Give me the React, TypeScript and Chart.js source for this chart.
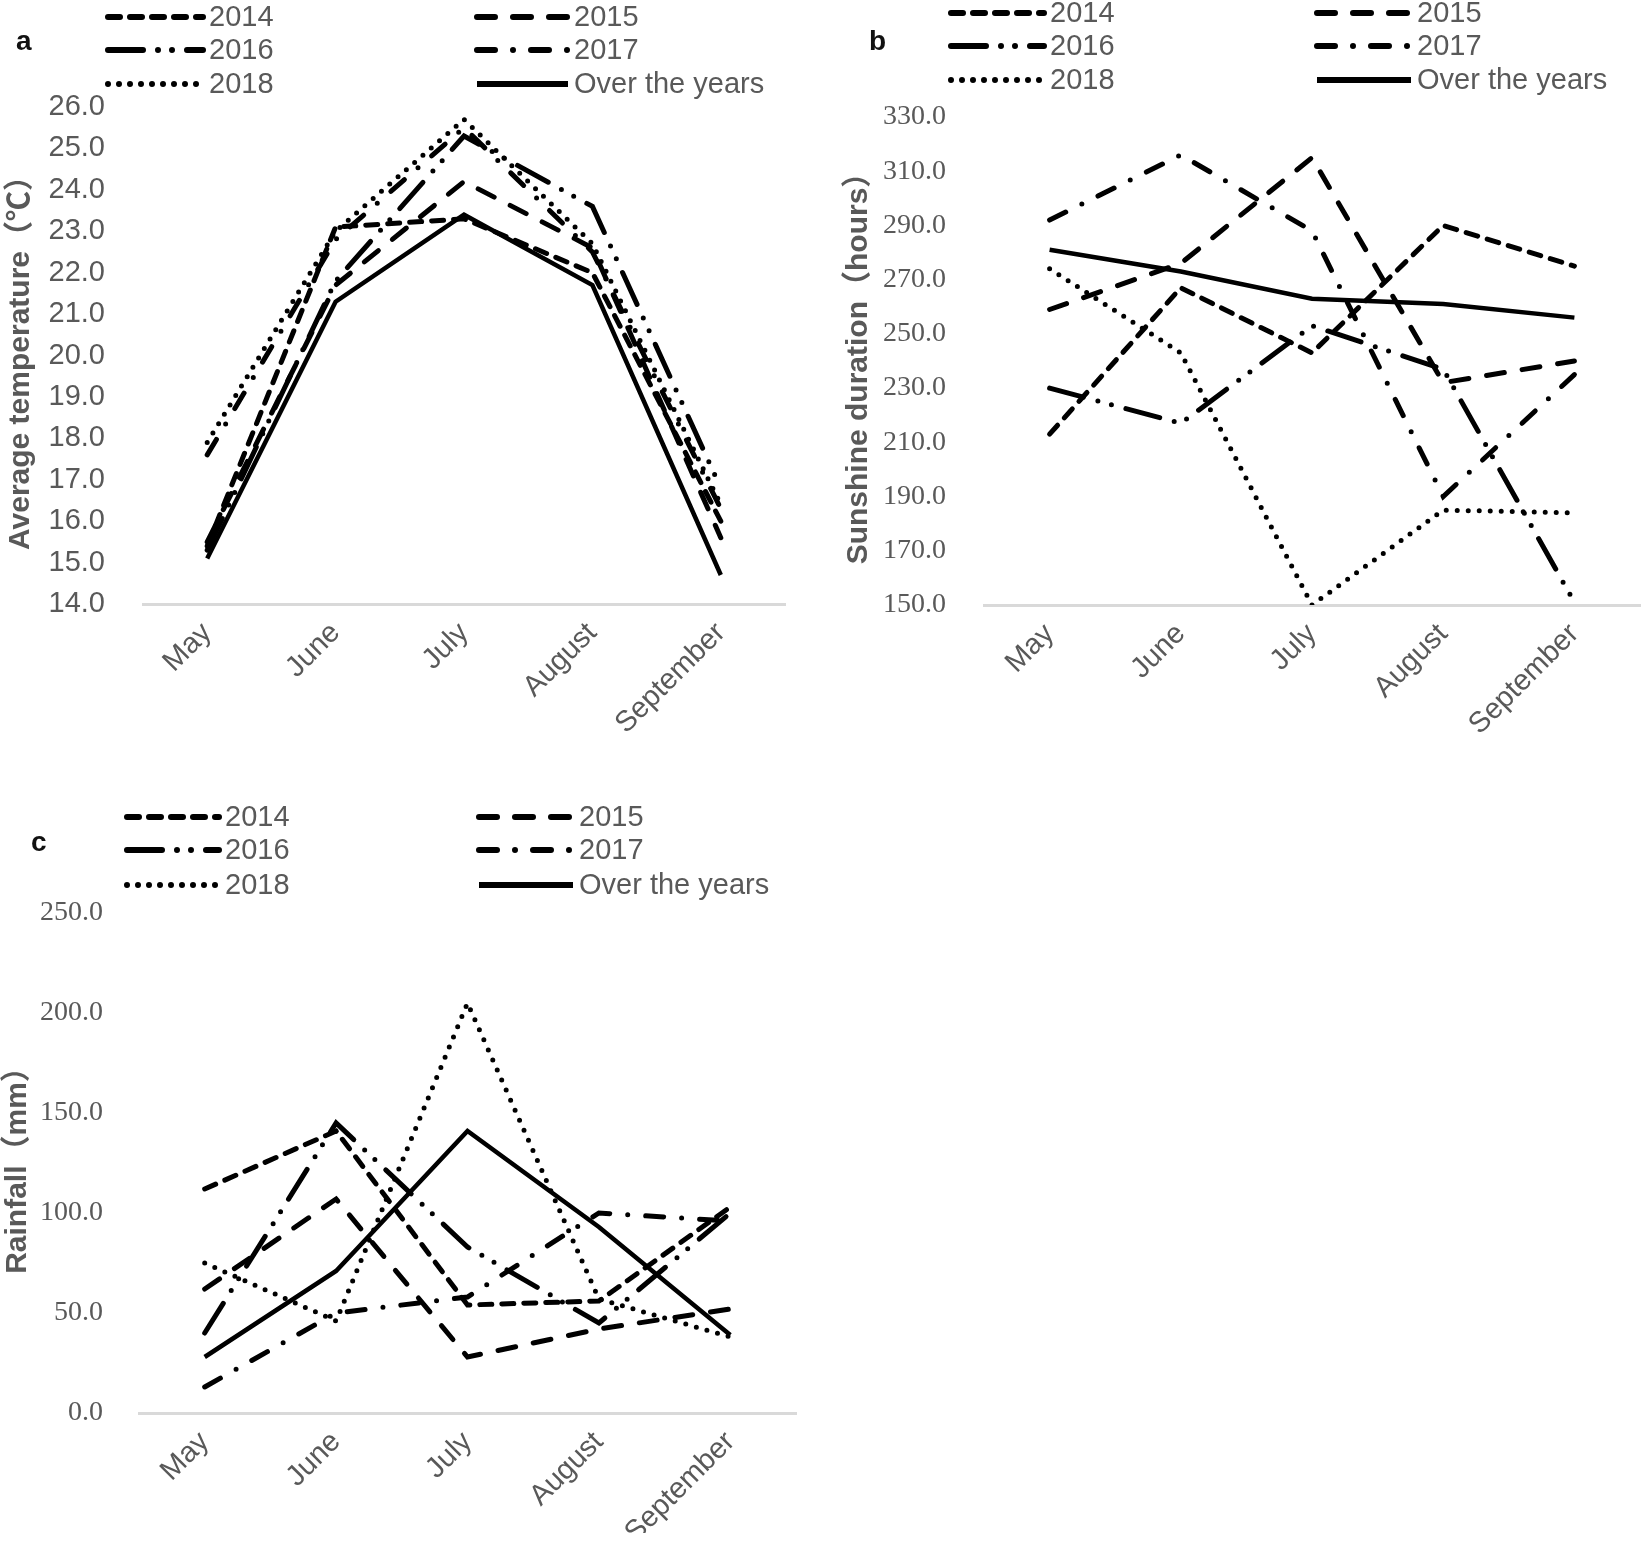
import React, { useEffect, useRef } from 'react';
import { Chart, registerables } from 'chart.js';

Chart.register(...registerables);

// ---------- DATA ----------
const months = ['May', 'June', 'July', 'August', 'September'];
const seriesNames = ['2014', '2015', '2016', '2017', '2018', 'Over the years'];

// a: Average temperature (°C)
const temp2014 = [15.4, 23.1, 23.3, 22.0, 16.0];
const temp2015 = [15.5, 21.7, 24.2, 22.6, 15.6];
const temp2016 = [15.3, 21.8, 25.3, 23.6, 16.8];
const temp2017 = [17.6, 22.8, 25.5, 22.5, 16.3];
const temp2018 = [17.9, 23.0, 25.7, 22.7, 16.4];
const tempAvg = [15.1, 21.3, 23.4, 21.7, 14.7];

// b: Sunshine duration (hours)
const sun2014 = [213, 267, 243, 290, 275];
const sun2015 = [259, 276, 315, 232, 240];
const sun2016 = [230, 217, 253, 237, 151];
const sun2017 = [292, 316, 288, 190, 235];
const sun2018 = [274, 243, 150, 185, 184];
const sunAvg = [281, 273, 263, 261, 256];

// c: Rainfall (mm)
const rain2014 = [112, 141, 54, 56, 103];
const rain2015 = [62, 107, 28, 42, 52];
const rain2016 = [40, 145, 83, 45, 100];
const rain2017 = [13, 50, 58, 100, 96];
const rain2018 = [75, 46, 205, 57, 38];
const rainAvg = [28, 71, 141, 93, 39];

const tempRange = { min: 14, max: 26, step: 1 };
const sunRange = { min: 150, max: 330, step: 20 };
const rainRange = { min: 0, max: 250, step: 50 };

// ---------- STYLES ----------
const GRAY = '#595959';
const SANS = '"Liberation Sans", Arial, "Noto Sans CJK SC", sans-serif';
const SERIF = '"Liberation Serif", "Times New Roman", serif';

const lineStyles: { dash: number[]; cap: CanvasLineCap; width: number }[] = [
  { dash: [12, 10], cap: 'round', width: 5 }, // 2014 short dash
  { dash: [18, 18], cap: 'round', width: 5 }, // 2015 dash
  { dash: [35, 15, 0, 14, 0, 15], cap: 'round', width: 5 }, // 2016 long dash dot dot
  { dash: [18, 18, 0, 18], cap: 'round', width: 5 }, // 2017 dash dot
  { dash: [0, 11], cap: 'round', width: 5 }, // 2018 dots
  { dash: [], cap: 'butt', width: 4.5 }, // over the years
];

type PanelCfg = {
  left: number;
  top: number;
  width: number;
  height: number;
  pad: { top: number; right: number; bottom: number; left: number };
  yWidth: number;
  xHeight: number;
  range: { min: number; max: number; step: number };
  yTitle: string;
  yTitlePad: number;
  yTickFont: string;
  yTickSize: number;
  yTickPad: number;
  series: number[][];
  legend: { c1: [number, number]; t1: number; c2: [number, number]; t2: number; rows: number[] };
  label: { text: string; x: number; y: number };
};

const panels: PanelCfg[] = [
  {
    left: 0, top: 0, width: 800, height: 760,
    pad: { top: 107, right: 15, bottom: 16, left: 0 },
    yWidth: 143, xHeight: 140,
    range: tempRange,
    yTitle: 'Average temperature（℃）', yTitlePad: 3,
    yTickFont: SANS, yTickSize: 29, yTickPad: 38,
    series: [temp2014, temp2015, temp2016, temp2017, temp2018, tempAvg],
    legend: { c1: [105, 206], t1: 209, c2: [474, 571], t2: 574, rows: [17, 50, 84] },
    label: { text: 'a', x: 16, y: 42 },
  },
  {
    left: 820, top: 0, width: 822, height: 760,
    pad: { top: 117, right: 2, bottom: 15, left: 0 },
    yWidth: 164, xHeight: 140,
    range: sunRange,
    yTitle: 'Sunshine duration（hours）', yTitlePad: 21,
    yTickFont: SERIF, yTickSize: 28, yTickPad: 38,
    series: [sun2014, sun2015, sun2016, sun2017, sun2018, sunAvg],
    legend: { c1: [128, 227], t1: 230, c2: [494, 594], t2: 597, rows: [13, 46, 80] },
    label: { text: 'b', x: 49, y: 42 },
  },
  {
    left: 0, top: 760, width: 800, height: 786,
    pad: { top: 153, right: 4, bottom: 13, left: 0 },
    yWidth: 139, xHeight: 120,
    range: rainRange,
    yTitle: 'Rainfall（mm）', yTitlePad: 0,
    yTickFont: SERIF, yTickSize: 28, yTickPad: 36,
    series: [rain2014, rain2015, rain2016, rain2017, rain2018, rainAvg],
    legend: { c1: [124, 222], t1: 225, c2: [476, 576], t2: 579, rows: [57, 90, 125] },
    label: { text: 'c', x: 31, y: 83 },
  },
];

function Panel({ cfg }: { cfg: PanelCfg }) {
  const ref = useRef<HTMLCanvasElement | null>(null);

  useEffect(() => {
    if (!ref.current) return;
    const legendPlugin = {
      id: 'customLegend',
      afterDraw(chart: any) {
        const ctx = chart.ctx as CanvasRenderingContext2D;
        ctx.save();
        chart.data.datasets.forEach((ds: any, i: number) => {
          const col = i % 2;
          const row = Math.floor(i / 2);
          const y = cfg.legend.rows[row];
          const [x1, x2] = col === 0 ? cfg.legend.c1 : cfg.legend.c2;
          const tx = col === 0 ? cfg.legend.t1 : cfg.legend.t2;
          ctx.strokeStyle = '#000';
          ctx.lineWidth = 6;
          ctx.setLineDash(ds.borderDash || []);
          ctx.lineCap = ds.borderCapStyle || 'butt';
          ctx.beginPath();
          ctx.moveTo(x1 + 3, y);
          ctx.lineTo(x2 - 3, y);
          ctx.stroke();
          ctx.setLineDash([]);
          ctx.fillStyle = GRAY;
          ctx.font = `29px ${SANS}`;
          ctx.textBaseline = 'middle';
          ctx.textAlign = 'left';
          ctx.fillText(ds.label, tx, y + 1);
        });
        ctx.fillStyle = '#111';
        ctx.font = `bold 28px ${SANS}`;
        ctx.textBaseline = 'middle';
        ctx.textAlign = 'left';
        ctx.fillText(cfg.label.text, cfg.label.x, cfg.label.y);
        ctx.restore();
      },
    };

    const chart = new Chart(ref.current, {
      type: 'line',
      data: {
        labels: months,
        datasets: cfg.series.map((values, i) => ({
          label: seriesNames[i],
          data: values,
          borderColor: '#000',
          backgroundColor: '#000',
          borderWidth: lineStyles[i].width,
          borderDash: lineStyles[i].dash,
          borderCapStyle: lineStyles[i].cap,
          borderJoinStyle: 'miter' as CanvasLineJoin,
          pointRadius: 0,
          tension: 0,
          fill: false,
        })),
      },
      options: {
        responsive: false,
        animation: false,
        devicePixelRatio: 1,
        layout: { padding: cfg.pad },
        plugins: {
          legend: { display: false },
          tooltip: { enabled: false },
        },
        scales: {
          x: {
            type: 'category',
            offset: true,
            grid: { display: false, drawTicks: false },
            border: { display: true, color: '#d9d9d9', width: 3 },
            ticks: {
              color: GRAY,
              font: { family: SANS, size: 29 },
              minRotation: 45,
              maxRotation: 45,
              autoSkip: false,
              padding: 12,
            },
            afterFit: (s: any) => {
              s.height = cfg.xHeight;
            },
          },
          y: {
            min: cfg.range.min,
            max: cfg.range.max,
            grid: { display: false, drawTicks: false },
            border: { display: false },
            ticks: {
              stepSize: cfg.range.step,
              color: GRAY,
              font: { family: cfg.yTickFont, size: cfg.yTickSize },
              padding: cfg.yTickPad,
              callback: (v: any) => Number(v).toFixed(1),
            },
            title: {
              display: true,
              text: cfg.yTitle,
              color: GRAY,
              font: { family: SANS, size: 30, weight: 'bold' },
              padding: { top: cfg.yTitlePad, bottom: 0 },
            },
            afterFit: (s: any) => {
              s.width = cfg.yWidth;
            },
          },
        },
      },
      plugins: [legendPlugin],
    } as any);

    return () => chart.destroy();
  }, [cfg]);

  return (
    <canvas
      ref={ref}
      width={cfg.width}
      height={cfg.height}
      style={{
        position: 'absolute',
        left: cfg.left,
        top: cfg.top,
        width: cfg.width,
        height: cfg.height,
      }}
    />
  );
}

export default function App() {
  return (
    <div
      style={{
        position: 'absolute',
        left: 0,
        top: 0,
        width: 1642,
        height: 1546,
        background: '#fff',
        overflow: 'hidden',
      }}
    >
      {panels.map((p, i) => (
        <Panel key={i} cfg={p} />
      ))}
    </div>
  );
}
